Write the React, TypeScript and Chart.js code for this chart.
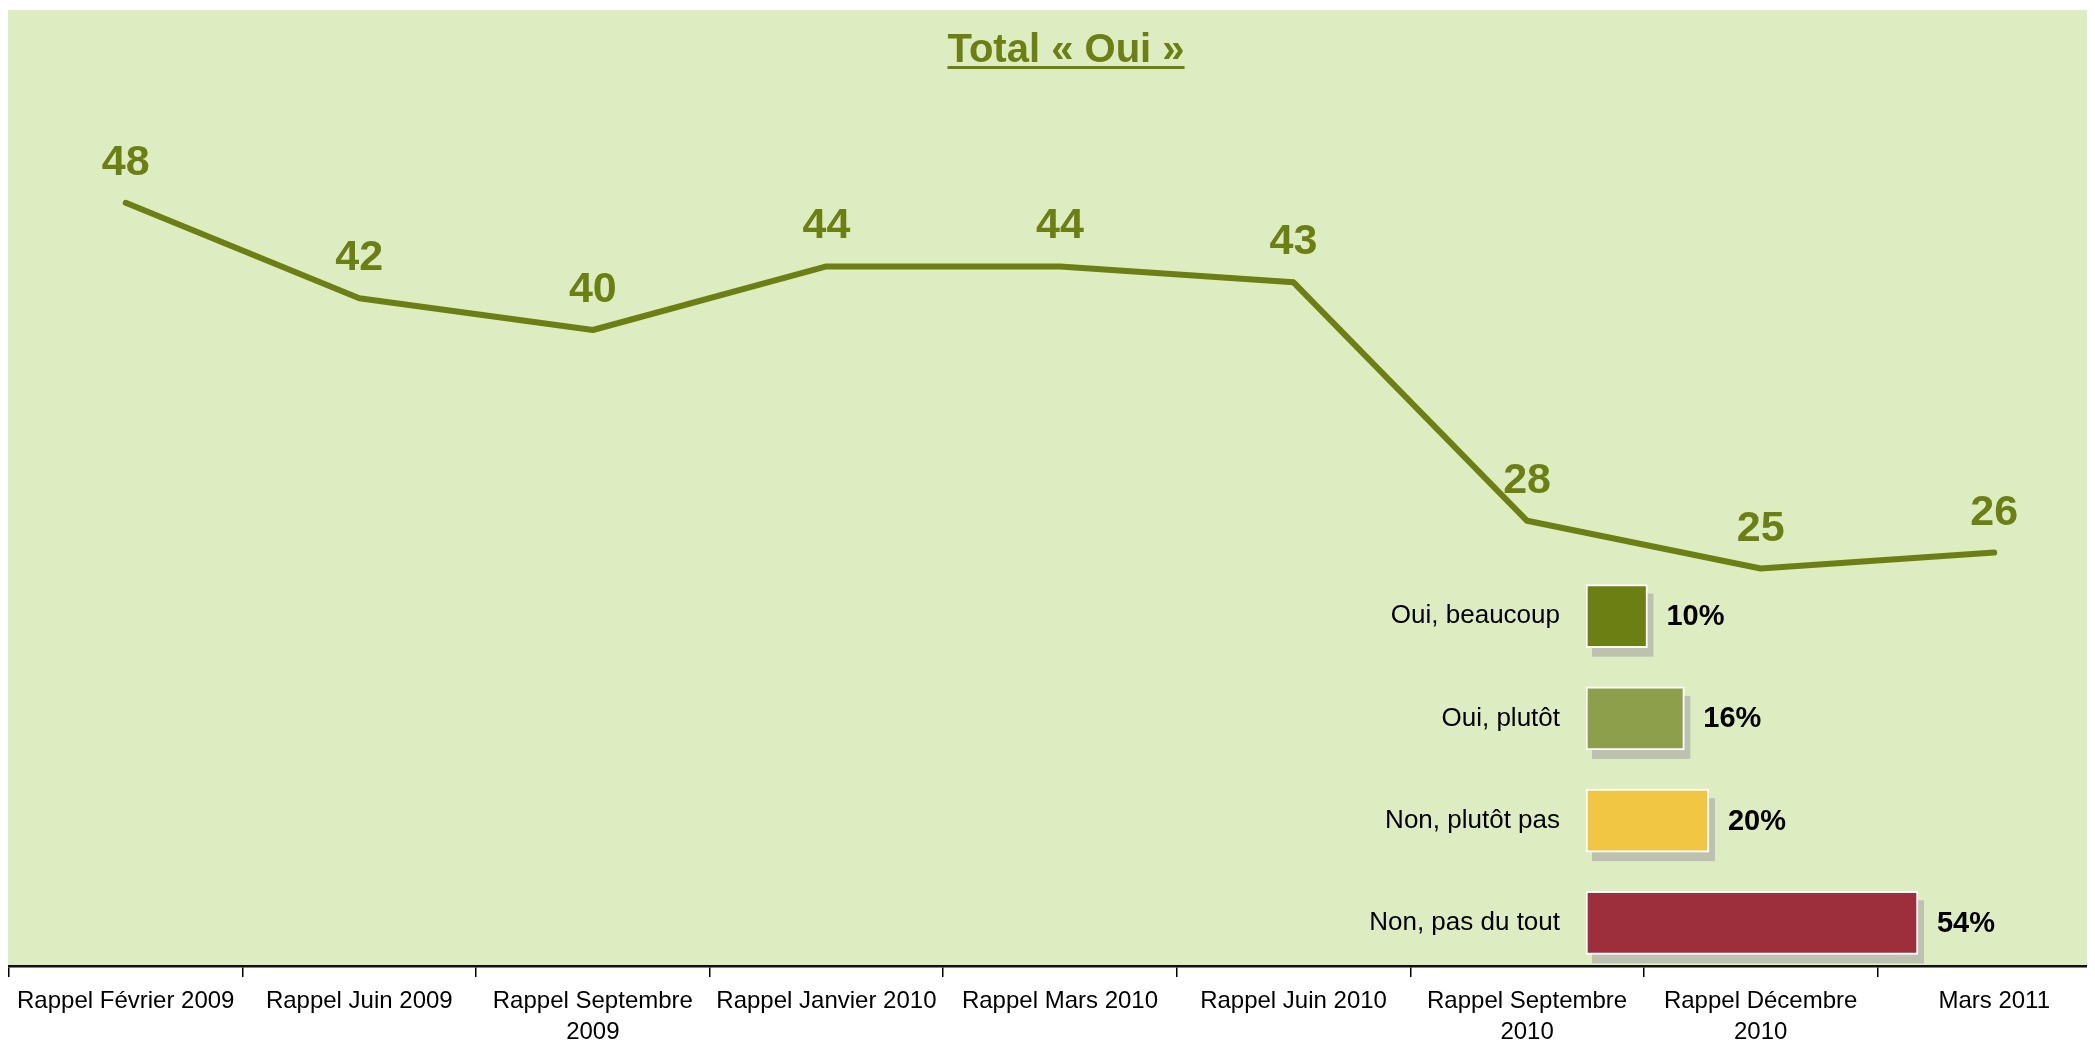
import React, { useEffect, useRef } from "react";
import { Chart, registerables } from "chart.js";

Chart.register(...registerables);

// ---------- data ----------
const categories: string[][] = [
  ["Rappel Février 2009"],
  ["Rappel Juin 2009"],
  ["Rappel Septembre", "2009"],
  ["Rappel Janvier 2010"],
  ["Rappel Mars 2010"],
  ["Rappel Juin 2010"],
  ["Rappel Septembre", "2010"],
  ["Rappel Décembre", "2010"],
  ["Mars 2011"],
];
const totalOui = [48, 42, 40, 44, 44, 43, 28, 25, 26];
const titleText = "Total « Oui »";

const answerLabels = ["Oui, beaucoup", "Oui, plutôt", "Non, plutôt pas", "Non, pas du tout"];
const answerValues = [10, 16, 20, 54];
const answerColors = ["#6B7F12", "#8E9F4B", "#F1C642", "#9D2F3C"];

// ---------- styles ----------
const FONT = "'Liberation Sans', Arial, sans-serif";
const OLIVE = "#6B7F12";
const BG = "#DEECC2";

export default function App() {
  const mainRef = useRef<HTMLCanvasElement | null>(null);
  const barRef = useRef<HTMLCanvasElement | null>(null);

  useEffect(() => {
    if (!mainRef.current || !barRef.current) return;

    const bgPlugin = {
      id: "bgPlugin",
      beforeDraw(chart: any) {
        const { ctx, chartArea } = chart;
        ctx.save();
        ctx.fillStyle = BG;
        ctx.fillRect(0, 2, chart.width, chartArea.bottom - 2);
        ctx.restore();
      },
      afterDraw(chart: any) {
        const { ctx } = chart;
        ctx.save();
        ctx.font = `bold 40px ${FONT}`;
        ctx.fillStyle = OLIVE;
        ctx.textAlign = "center";
        ctx.textBaseline = "alphabetic";
        const cx = 1058;
        ctx.fillText(titleText, cx, 54);
        const w = ctx.measureText(titleText).width;
        ctx.fillRect(cx - w / 2, 58, w, 3);
        ctx.restore();
      },
      afterDatasetsDraw(chart: any) {
        const { ctx } = chart;
        const meta = chart.getDatasetMeta(0);
        ctx.save();
        ctx.font = `bold 43px ${FONT}`;
        ctx.fillStyle = OLIVE;
        ctx.textAlign = "center";
        ctx.textBaseline = "alphabetic";
        meta.data.forEach((pt: any, i: number) => {
          ctx.fillText(String(totalOui[i]), pt.x, pt.y - 28);
        });
        ctx.restore();
      },
    };

    const mainChart = new Chart(mainRef.current, {
      type: "line",
      data: {
        labels: categories as any,
        datasets: [
          {
            data: totalOui,
            borderColor: OLIVE,
            borderWidth: 6,
            pointRadius: 0,
            tension: 0,
            borderCapStyle: "round",
            borderJoinStyle: "round",
          },
        ],
      },
      options: {
        responsive: false,
        animation: false,
        layout: { padding: { top: 4, left: 0, right: 0, bottom: 0 } },
        plugins: { legend: { display: false }, tooltip: { enabled: false }, title: { display: false } },
        scales: {
          x: {
            type: "category",
            offset: true,
            grid: {
              display: true,
              offset: true,
              drawOnChartArea: false,
              drawTicks: true,
              tickLength: 11,
              color: "#000",
              lineWidth: 1.5,
            },
            border: { display: true, color: "#111", width: 2.5 },
            ticks: {
              color: "#000",
              font: { family: FONT, size: 24, lineHeight: 1.3 },
              padding: 9,
              maxRotation: 0,
              minRotation: 0,
              autoSkip: false,
            },
            afterFit(scale: any) {
              scale.height = 81;
            },
          },
          y: {
            display: false,
            min: 0,
            max: 60,
          },
        },
      },
      plugins: [bgPlugin],
    });

    const barPlugin = {
      id: "barPlugin",
      beforeDatasetsDraw(chart: any) {
        const { ctx } = chart;
        const meta = chart.getDatasetMeta(0);
        ctx.save();
        ctx.fillStyle = "rgba(160,160,160,0.55)";
        meta.data.forEach((bar: any) => {
          const left = Math.min(bar.base, bar.x);
          const w = Math.abs(bar.x - bar.base);
          ctx.fillRect(left + 6, bar.y - bar.height / 2 + 9, w, bar.height);
        });
        ctx.restore();
      },
      afterDatasetsDraw(chart: any) {
        const { ctx } = chart;
        const meta = chart.getDatasetMeta(0);
        ctx.save();
        ctx.font = `bold 29px ${FONT}`;
        ctx.fillStyle = "#000";
        ctx.textAlign = "left";
        ctx.textBaseline = "middle";
        meta.data.forEach((bar: any, i: number) => {
          ctx.fillText(`${answerValues[i]}%`, bar.x + 19, bar.y + 1);
        });
        ctx.restore();
      },
    };

    const barChart = new Chart(barRef.current, {
      type: "bar",
      data: {
        labels: answerLabels,
        datasets: [
          {
            data: answerValues,
            backgroundColor: answerColors,
            borderColor: "#FFFFFF",
            borderWidth: 2,
            borderSkipped: false,
            barThickness: 63,
          },
        ],
      },
      options: {
        indexAxis: "y",
        responsive: false,
        animation: false,
        layout: { padding: 0 },
        plugins: { legend: { display: false }, tooltip: { enabled: false } },
        scales: {
          x: { display: false, min: 0, max: 77.1 },
          y: {
            grid: { display: false, drawTicks: false },
            border: { display: false },
            ticks: {
              color: "#000",
              font: { family: FONT, size: 26 },
              padding: 26,
            },
            afterFit(scale: any) {
              scale.width = 286;
              scale.paddingTop = 0;
              scale.paddingBottom = 0;
            },
          },
        },
      },
      plugins: [barPlugin],
    });

    return () => {
      mainChart.destroy();
      barChart.destroy();
    };
  }, []);

  return (
    <div style={{ position: "relative", width: 2087, height: 1039, overflow: "hidden" }}>
      <style>{"html,body{overflow:hidden}"}</style>
      <canvas
        ref={mainRef}
        width={2103}
        height={1039}
        style={{ position: "absolute", left: 0, top: 0 }}
      />
      <canvas
        ref={barRef}
        width={760}
        height={409}
        style={{ position: "absolute", left: 1292, top: 557 }}
      />
    </div>
  );
}
